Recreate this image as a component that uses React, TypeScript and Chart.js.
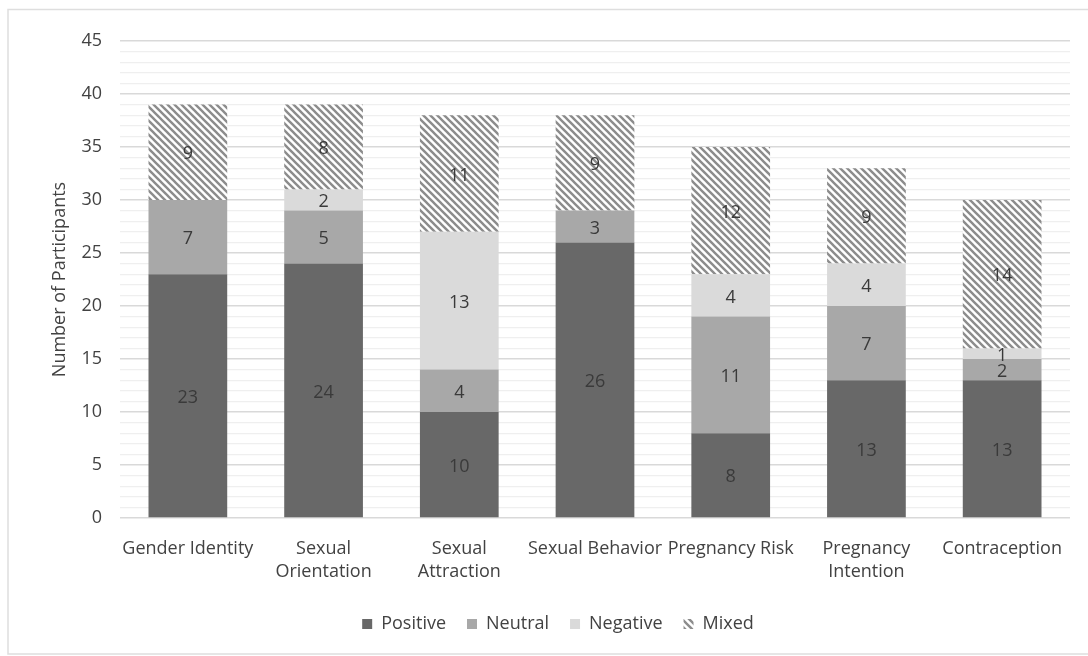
import React, { useEffect, useRef } from "react";
import { Chart, registerables } from "chart.js";

Chart.register(...registerables);

const categories: (string | string[])[] = [
  "Gender Identity",
  ["Sexual", "Orientation"],
  ["Sexual", "Attraction"],
  "Sexual Behavior",
  "Pregnancy Risk",
  ["Pregnancy", "Intention"],
  "Contraception",
];
const positive = [23, 24, 10, 26, 8, 13, 13];
const neutral = [7, 5, 4, 3, 11, 7, 2];
const negative = [0, 2, 13, 0, 4, 4, 1];
const mixed = [9, 8, 11, 9, 12, 9, 14];
const seriesNames = ["Positive", "Neutral", "Negative", "Mixed"];
const yTitle = "Number of Participants";

const FONT = "'Open Sans', 'Noto Sans', sans-serif";
const TEXT = "#424242";

function makeHatch(): CanvasPattern | string {
  const s = 7;
  const c = document.createElement("canvas");
  c.width = s;
  c.height = s;
  const g = c.getContext("2d");
  if (!g) return "#999";
  g.fillStyle = "#ffffff";
  g.fillRect(0, 0, s, s);
  g.strokeStyle = "#8c8c8c";
  g.lineWidth = 2.4;
  g.lineCap = "square";
  for (const k of [-s, 0, s]) {
    g.beginPath();
    g.moveTo(k, 0);
    g.lineTo(k + s, s);
    g.stroke();
  }
  const p = g.createPattern(c, "repeat");
  return p || "#999";
}

const framePlugin = {
  id: "frame",
  beforeDraw(chart: any) {
    const ctx = chart.ctx;
    ctx.save();
    ctx.strokeStyle = "#dedede";
    ctx.lineWidth = 1.5;
    ctx.strokeRect(8, 9.5, 1200, 644.5);
    ctx.restore();
  },
};

const labelPlugin = {
  id: "segLabels",
  afterDatasetsDraw(chart: any) {
    const ctx = chart.ctx;
    ctx.save();
    ctx.font = `18px ${FONT}`;
    ctx.fillStyle = "#3a3a3a";
    ctx.textAlign = "center";
    ctx.textBaseline = "middle";
    chart.data.datasets.forEach((ds: any, i: number) => {
      const meta = chart.getDatasetMeta(i);
      meta.data.forEach((bar: any, j: number) => {
        const v = ds.data[j];
        if (!v) return;
        ctx.fillText(String(v), bar.x, (bar.y + bar.base) / 2 + 2);
      });
    });
    ctx.restore();
  },
};

export default function App() {
  const ref = useRef<HTMLCanvasElement | null>(null);
  useEffect(() => {
    if (!ref.current) return;
    const hatch = makeHatch();
    const chart = new Chart(ref.current, {
      type: "bar",
      data: {
        labels: categories,
        datasets: [
          { label: seriesNames[0], data: positive, backgroundColor: "#686868" },
          { label: seriesNames[1], data: neutral, backgroundColor: "#a8a8a8" },
          { label: seriesNames[2], data: negative, backgroundColor: "#dadada" },
          { label: seriesNames[3], data: mixed, backgroundColor: hatch as any },
        ],
      },
      options: {
        responsive: false,
        animation: false,
        layout: { padding: { top: 41, right: 18, bottom: 13, left: 46 } },
        datasets: { bar: { categoryPercentage: 1, barPercentage: 0.58 } },
        plugins: {
          tooltip: { enabled: false },
          legend: {
            position: "bottom",
            labels: {
              color: TEXT,
              font: { family: FONT, size: 18 },
              boxWidth: 10,
              boxHeight: 10,
              padding: 21,
            },
          },
        },
        scales: {
          x: {
            stacked: true,
            grid: { display: false },
            border: { display: false },
            ticks: {
              color: TEXT,
              font: { family: FONT, size: 18, lineHeight: 1.3 },
              maxRotation: 0,
              autoSkip: false,
              padding: 11,
            },
            afterFit: (s: any) => {
              s.height = 76;
            },
          },
          y: {
            stacked: true,
            min: 0,
            max: 45,
            border: { display: false },
            grid: {
              drawTicks: false,
              color: (c: any) => (c.tick && c.tick.value % 5 === 0 ? "#d9d9d9" : "#efefef"),
              lineWidth: (c: any) => (c.tick && c.tick.value % 5 === 0 ? 1.5 : 1.2),
            },
            ticks: {
              stepSize: 1,
              autoSkip: false,
              maxTicksLimit: 100,
              color: TEXT,
              font: { family: FONT, size: 18 },
              padding: 18,
              callback: (v: any) => (Number(v) % 5 === 0 ? String(v) : ""),
            },
            title: {
              display: true,
              text: yTitle,
              color: TEXT,
              font: { family: FONT, size: 18 },
              padding: { top: 3, bottom: 0 },
            },
            afterFit: (s: any) => {
              s.width = 74;
            },
          },
        },
      },
      plugins: [framePlugin, labelPlugin],
    });
    return () => chart.destroy();
  }, []);
  return (
    <div style={{ position: "absolute", left: 0, top: 0, width: 1088, height: 656 }}>
      <canvas ref={ref} width={1088} height={656} style={{ display: "block" }} />
    </div>
  );
}
